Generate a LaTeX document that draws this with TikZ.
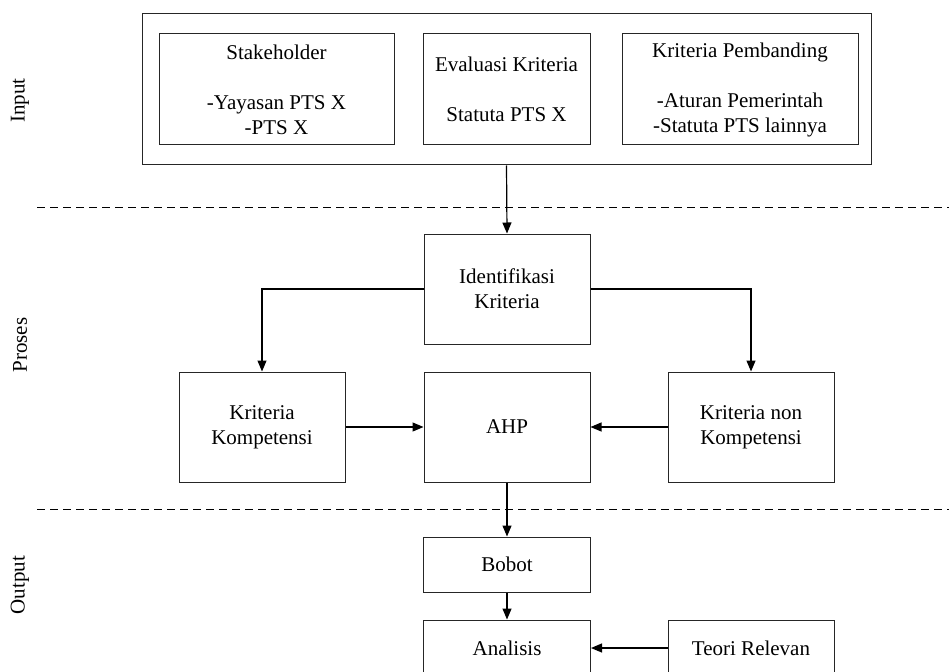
\documentclass[tikz,border=0pt]{standalone}
\usepackage{fontspec}
\setmainfont{Liberation Serif}
\usetikzlibrary{arrows.meta}

\begin{document}
\begin{tikzpicture}[x=1pt, y=-1pt,
  every node/.style={font=\fontsize{21}{25}\selectfont},
  blok/.style={draw=black!85, line width=1pt, align=center, inner sep=0pt},
  panah/.style={-{Triangle[length=11pt,width=9pt]}, line width=1.2pt},
  batas/.style={dash pattern=on 8pt off 5pt, line width=1pt}]
  \useasboundingbox (0,0) rectangle (949,671);
  % input
  \node[blok, minimum width=729pt, minimum height=151pt] (masukan) at (506.5,89.5) {};
  \node[blok, minimum width=235pt, minimum height=111pt] (stake) at (276.5,89.5)
    {Stakeholder\\[25pt]-Yayasan PTS X\\-PTS X};
  \node[blok, minimum width=167pt, minimum height=111pt] (evalk) at (506.5,89.5)
    {Evaluasi Kriteria\\[25pt]Statuta PTS X};
  \node[blok, minimum width=236pt, minimum height=111pt] (banding) at (740,89.5)
    {Kriteria Pembanding\\[25pt]-Aturan Pemerintah\\-Statuta PTS lainnya};
  % proses
  \node[blok, minimum width=166pt, minimum height=110pt] (ident) at (507,289) {Identifikasi\\Kriteria};
  \node[blok, minimum width=166pt, minimum height=110pt] (komp) at (262,427) {Kriteria\\Kompetensi};
  \node[blok, minimum width=166pt, minimum height=110pt] (ahp) at (507,427) {AHP};
  \node[blok, minimum width=166pt, minimum height=110pt] (nonkomp) at (751,427) {Kriteria non\\Kompetensi};
  % output
  \node[blok, minimum width=167pt, minimum height=55pt] (bobot) at (507,564.5) {Bobot};
  \node[blok, minimum width=167pt, minimum height=56pt] (analisis) at (507,648) {Analisis};
  \node[blok, minimum width=166pt, minimum height=56pt] (teori) at (751,648) {Teori Relevan};
  % label kiri
  \node[rotate=90] (lin) at (20,100.5) {Input};
  \node[rotate=90] (lpro) at (20,345) {Proses};
  \node[rotate=90] (lout) at (20,585) {Output};
  % garis batas
  \coordinate (b1a) at (37,207);  \coordinate (b1b) at (949,207);
  \coordinate (b2a) at (37,509);  \coordinate (b2b) at (949,509);
  \draw[batas] (b1a) -- (b1b);
  \draw[batas] (b2a) -- (b2b);
  % panah
  \draw[panah] (masukan.south) -- (ident.north);
  \draw[panah] (ident.west) -| (komp.north);
  \draw[panah] (ident.east) -| (nonkomp.north);
  \draw[panah] (komp.east) -- (ahp.west);
  \draw[panah] (nonkomp.west) -- (ahp.east);
  \draw[panah] (ahp.south) -- (bobot.north);
  \draw[panah] (bobot.south) -- (analisis.north);
  \draw[panah] (teori.west) -- (analisis.east);
\end{tikzpicture}
\end{document}
